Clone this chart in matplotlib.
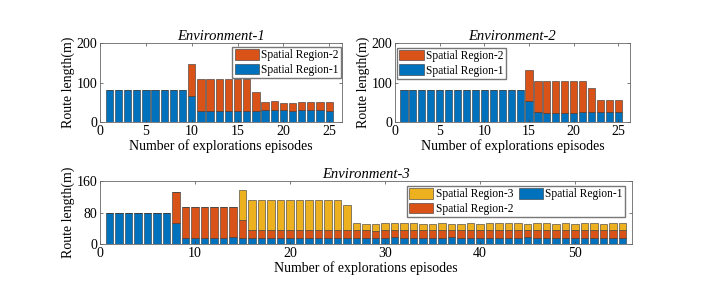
import numpy as np
import matplotlib
matplotlib.use("Agg")
import matplotlib.pyplot as plt

plt.rcParams['font.family'] = ['Liberation Serif', 'DejaVu Serif']
plt.rcParams['font.size'] = 10

# colours (MATLAB default order)
C_BLUE = '#0072BD'
C_RED = '#D95319'
C_YEL = '#EDB120'

# ---- Environment-1 ----
env1_r1 = [80]*9 + [67, 29, 29, 29, 29, 29, 29, 28, 30, 31, 30, 29, 30, 31, 30, 29]
env1_tot = [80]*9 + [148, 108, 108, 108, 108, 108, 108, 77, 51, 53, 49, 49, 51, 51, 50, 50]
env1_r2 = [t - a for t, a in zip(env1_tot, env1_r1)]

# ---- Environment-2 ----
env2_r1 = [80]*14 + [53, 26, 24, 24, 24, 24, 26, 26, 26, 26, 26]
env2_tot = [80]*14 + [131, 105, 103, 103, 104, 104, 105, 85, 56, 55, 55]
env2_r2 = [t - a for t, a in zip(env2_tot, env2_r1)]

# ---- Environment-3 ----
env3_r1 = [79]*7 + [53] + [16, 16, 16, 16, 16, 17] + [16] + [16]*11 + \
    [16, 16, 16, 16, 17, 16, 16, 16, 16, 16, 17, 16, 16, 16, 16,
     16, 16, 16, 17, 16, 16, 16, 16, 16, 16, 16, 16, 16, 16]
env3_r12 = [79]*7 + [133] + [94]*6 + [60] + [35]*11 + \
    [35, 35, 34, 35, 35, 36, 35, 35, 35, 35, 35, 35, 35, 35, 35,
     35, 35, 35, 35, 35, 35, 35, 35, 35, 35, 35, 35, 35, 35]
env3_tot = [79]*7 + [133] + [94]*6 + [138] + \
    [112, 113, 113, 113, 112, 113, 112, 113, 113, 113, 100] + \
    [53, 51, 52, 53, 53, 53, 53, 52, 51, 54, 52, 51, 53, 52, 53,
     53, 54, 53, 52, 53, 53, 52, 53, 52, 53, 53, 52, 53, 53]
env3_r2 = [b - a for a, b in zip(env3_r1, env3_r12)]
env3_r3 = [t - b for b, t in zip(env3_r12, env3_tot)]

XLABEL = 'Number of explorations episodes'
YLABEL = 'Route length(m)'

W, H = 727, 288
fig = plt.figure(figsize=(W/100, H/100), dpi=100)


def ax_px(x0, y0, x1, y1):
    return fig.add_axes([x0/W, 1 - y1/H, (x1 - x0)/W, (y1 - y0)/H])


def style(ax):
    for s in ax.spines.values():
        s.set_color('#666666')
        s.set_linewidth(0.6)
    ax.tick_params(direction='in', length=2.5, width=0.5, color='#444444',
                   top=True, right=True, labelsize=10, pad=2)


kw = dict(width=0.8, edgecolor='#333333', linewidth=0.4)
leg_kw = dict(fontsize=8.3, frameon=True, fancybox=False, edgecolor='#555555',
              borderpad=0.2, handlelength=2.1, handleheight=1.0,
              handletextpad=0.2, labelspacing=0.2, borderaxespad=0.0)

# Env-1
ax1 = ax_px(100, 43, 342, 122)
x = np.arange(1, len(env1_r1) + 1)
b1 = ax1.bar(x, env1_r1, color=C_BLUE, **kw)
b2 = ax1.bar(x, env1_r2, bottom=env1_r1, color=C_RED, **kw)
ax1.set_xlim(0, 26.4)
ax1.set_ylim(0, 200)
ax1.set_xticks([0, 5, 10, 15, 20, 25])
ax1.set_yticks([0, 100, 200])
ax1.set_title('Environment-1', style='italic', fontsize=10.5, pad=2)
ax1.set_ylabel(YLABEL, labelpad=1)
ax1.set_xlabel(XLABEL, labelpad=1)
ax1.legend([b2, b1], ['Spatial Region-2', 'Spatial Region-1'], loc='upper right',
           bbox_to_anchor=(0.996, 0.95), **leg_kw)
style(ax1)

# Env-2
ax2 = ax_px(395, 43, 630, 122)
x = np.arange(1, len(env2_r1) + 1)
b1 = ax2.bar(x, env2_r1, color=C_BLUE, **kw)
b2 = ax2.bar(x, env2_r2, bottom=env2_r1, color=C_RED, **kw)
ax2.set_xlim(0, 26.3)
ax2.set_ylim(0, 200)
ax2.set_xticks([0, 5, 10, 15, 20, 25])
ax2.set_yticks([0, 100, 200])
ax2.set_title('Environment-2', style='italic', fontsize=10.5, pad=2)
ax2.set_ylabel(YLABEL, labelpad=1)
ax2.set_xlabel(XLABEL, labelpad=1)
ax2.legend([b2, b1], ['Spatial Region-2', 'Spatial Region-1'], loc='upper left',
           bbox_to_anchor=(0.009, 0.94), **leg_kw)
style(ax2)

# Env-3
ax3 = ax_px(100, 181, 632, 244)
x = np.arange(1, len(env3_r1) + 1)
b1 = ax3.bar(x, env3_r1, color=C_BLUE, **kw)
b2 = ax3.bar(x, env3_r2, bottom=env3_r1, color=C_RED, **kw)
b3 = ax3.bar(x, env3_r3, bottom=env3_r12, color=C_YEL, **kw)
ax3.set_xlim(0, 56)
ax3.set_ylim(0, 160)
ax3.set_xticks([0, 10, 20, 30, 40, 50])
ax3.set_yticks([0, 80, 160])
ax3.set_title('Environment-3', style='italic', fontsize=10.5, pad=2)
ax3.set_ylabel(YLABEL, labelpad=1)
ax3.set_xlabel(XLABEL, labelpad=1)
ax3.legend([b3, b2, b1], ['Spatial Region-3', 'Spatial Region-2', 'Spatial Region-1'],
           loc='upper right', bbox_to_anchor=(0.987, 0.92), ncol=2,
           columnspacing=0.5, **leg_kw)
style(ax3)

fig.savefig('out.png', dpi=100)
